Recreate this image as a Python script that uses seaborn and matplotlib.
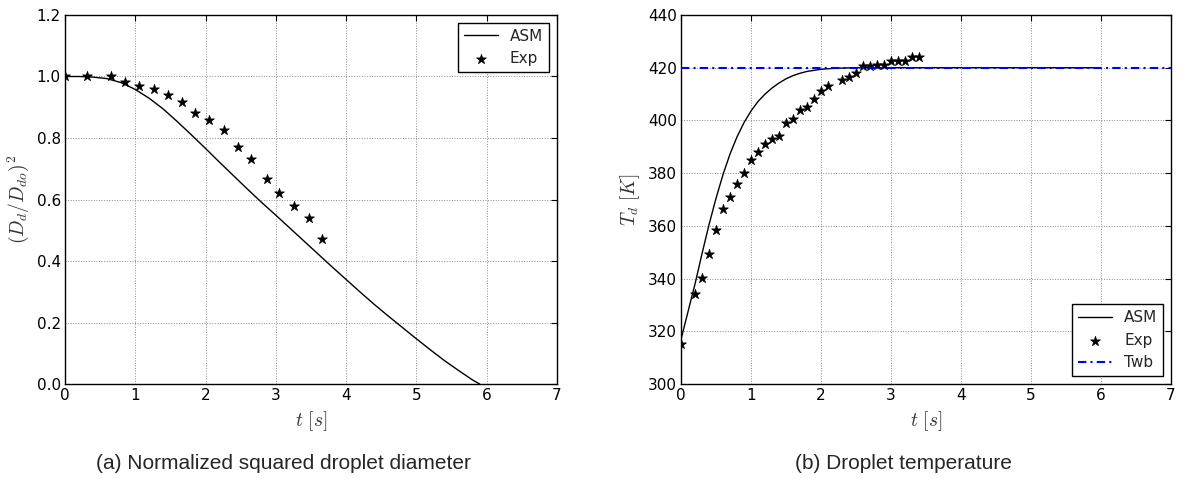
import matplotlib
matplotlib.use('Agg')
import matplotlib.pyplot as plt
import numpy as np
import pandas as pd
import seaborn as sns

# %% data
# (a) normalized squared diameter
t_asm_d = [0, 0.2, 0.4, 0.6, 0.8, 1.0, 1.2, 1.4, 1.6, 1.8, 2.0, 2.2, 2.4, 2.6, 2.8,
           3.0, 3.2, 3.4, 3.6, 3.8, 4.0, 4.2, 4.4, 4.6, 4.8, 5.0, 5.2, 5.4, 5.6, 5.8, 5.9]
d2_asm = [1.000, 1.000, 0.998, 0.993, 0.980, 0.958, 0.929, 0.894, 0.853, 0.810, 0.766,
          0.721, 0.677, 0.633, 0.590, 0.549, 0.507, 0.465, 0.423, 0.381, 0.340, 0.299,
          0.259, 0.221, 0.184, 0.147, 0.111, 0.076, 0.044, 0.013, 0.0]
t_exp_d = [0, 0.31, 0.65, 0.86, 1.06, 1.26, 1.46, 1.66, 1.85, 2.05, 2.26, 2.46, 2.65,
           2.88, 3.05, 3.26, 3.47, 3.66]
d2_exp = [1.0, 1.0, 1.0, 0.983, 0.970, 0.960, 0.941, 0.917, 0.882, 0.857, 0.826, 0.770,
          0.732, 0.666, 0.620, 0.578, 0.539, 0.473]

# (b) droplet temperature
t_asm_T = [0, 0.1, 0.2, 0.3, 0.4, 0.5, 0.6, 0.7, 0.8, 0.9, 1.0, 1.1, 1.2, 1.3, 1.4,
           1.5, 1.6, 1.7, 1.8, 2.0, 2.2, 2.5, 3.0, 4.0, 5.0, 5.9]
T_asm = [317.0, 327.5, 338.0, 349.5, 360.5, 370.5, 379.5, 387.3, 393.8, 399.2, 403.6,
         407.2, 410.0, 412.3, 414.2, 415.8, 417.0, 417.9, 418.6, 419.4, 419.8, 420.0,
         420.0, 420.0, 420.0, 420.0]
t_exp_T = [0, 0.2, 0.3, 0.4, 0.5, 0.6, 0.7, 0.8, 0.9, 1.0, 1.1, 1.2, 1.3, 1.4, 1.5,
           1.6, 1.7, 1.8, 1.9, 2.0, 2.1, 2.3, 2.4, 2.5, 2.6, 2.7, 2.8, 2.9, 3.0, 3.1,
           3.2, 3.3, 3.4]
T_exp = [315.0, 334.0, 340.2, 349.4, 358.5, 366.5, 371.0, 375.7, 380.0, 384.8, 388.2,
         391.2, 392.8, 394.2, 398.9, 400.6, 403.8, 405.2, 408.0, 411.2, 412.9, 415.4,
         416.5, 418.0, 420.6, 420.7, 421.2, 421.2, 422.5, 422.5, 422.5, 424.2, 424.2]
T_wb = 420.0

captions = ['(a) Normalized squared droplet diameter', '(b) Droplet temperature']

# %% old-matplotlib look
sns.set_style('white')
plt.rcParams['font.family'] = ['DejaVu Sans']
plt.rcParams['mathtext.fontset'] = 'cm'
plt.rcParams['xtick.direction'] = 'in'
plt.rcParams['ytick.direction'] = 'in'
plt.rcParams['xtick.top'] = True
plt.rcParams['ytick.right'] = True
plt.rcParams['xtick.major.size'] = 4
plt.rcParams['ytick.major.size'] = 4
plt.rcParams['axes.edgecolor'] = 'black'
plt.rcParams['axes.linewidth'] = 1.0

fig = plt.figure(figsize=(11.83, 4.79), dpi=100)
ax1 = fig.add_axes([0.0549, 0.1983, 0.4159, 0.7704])
ax2 = fig.add_axes([0.5757, 0.1983, 0.4142, 0.7704])

def style_ax(ax):
  ax.grid(True, color='0.55', linestyle=':', linewidth=0.7)
  ax.set_axisbelow(True)
  ax.tick_params(labelsize=11, colors='black', pad=3)
  for s in ax.spines.values():
    s.set_color('black')
    s.set_linewidth(1.0)

# %% (a)
sns.lineplot(x=t_asm_d, y=d2_asm, ax=ax1, color='black', lw=1.0, label='ASM')
sns.scatterplot(x=t_exp_d, y=d2_exp, ax=ax1, marker='*', s=55, color='black',
                edgecolor='black', linewidth=0.5, label='Exp', zorder=3)
ax1.set_xlim(0, 7)
ax1.set_ylim(0, 1.2)
ax1.set_xticks(range(0, 8))
ax1.set_yticks(np.arange(0, 1.21, 0.2))
ax1.set_yticklabels(['%.1f' % v for v in np.arange(0, 1.21, 0.2)])
ax1.set_xlabel(r'$t\ [s]$', fontsize=14, color='0.2')
ax1.set_ylabel(r'$(D_d/D_{do})^2$', fontsize=14, color='0.2')
style_ax(ax1)
leg = ax1.legend(loc='upper right', fontsize=11, frameon=True, fancybox=False,
                 edgecolor='black', framealpha=1, scatterpoints=1, handlelength=2.2,
                 borderaxespad=0.5)
leg.get_frame().set_linewidth(1.0)

# %% (b)
sns.lineplot(x=t_asm_T, y=T_asm, ax=ax2, color='black', lw=1.0, label='ASM')
sns.scatterplot(x=t_exp_T, y=T_exp, ax=ax2, marker='*', s=55, color='black',
                edgecolor='black', linewidth=0.5, label='Exp', zorder=3)
ax2.axhline(T_wb, color='blue', lw=1.5, dashes=(4, 2, 1, 2), label='Twb', zorder=4)
ax2.set_xlim(0, 7)
ax2.set_ylim(300, 440)
ax2.set_xticks(range(0, 8))
ax2.set_yticks(range(300, 441, 20))
ax2.set_xlabel(r'$t\ [s]$', fontsize=14, color='0.2')
ax2.set_ylabel(r'$T_d\ [K]$', fontsize=14, color='0.2')
style_ax(ax2)
leg = ax2.legend(loc='lower right', fontsize=11, frameon=True, fancybox=False,
                 edgecolor='black', framealpha=1, scatterpoints=1, handlelength=2.2,
                 borderaxespad=0.5)
leg.get_frame().set_linewidth(1.0)

# %% captions under each panel
fig.text(283.5 / 1183, 0.0334, captions[0], ha='center', va='center', fontsize=15,
         family='Liberation Sans')
fig.text(903 / 1183, 0.0334, captions[1], ha='center', va='center', fontsize=15,
         family='Liberation Sans')

fig.savefig('out.png', dpi=100, facecolor='white')
